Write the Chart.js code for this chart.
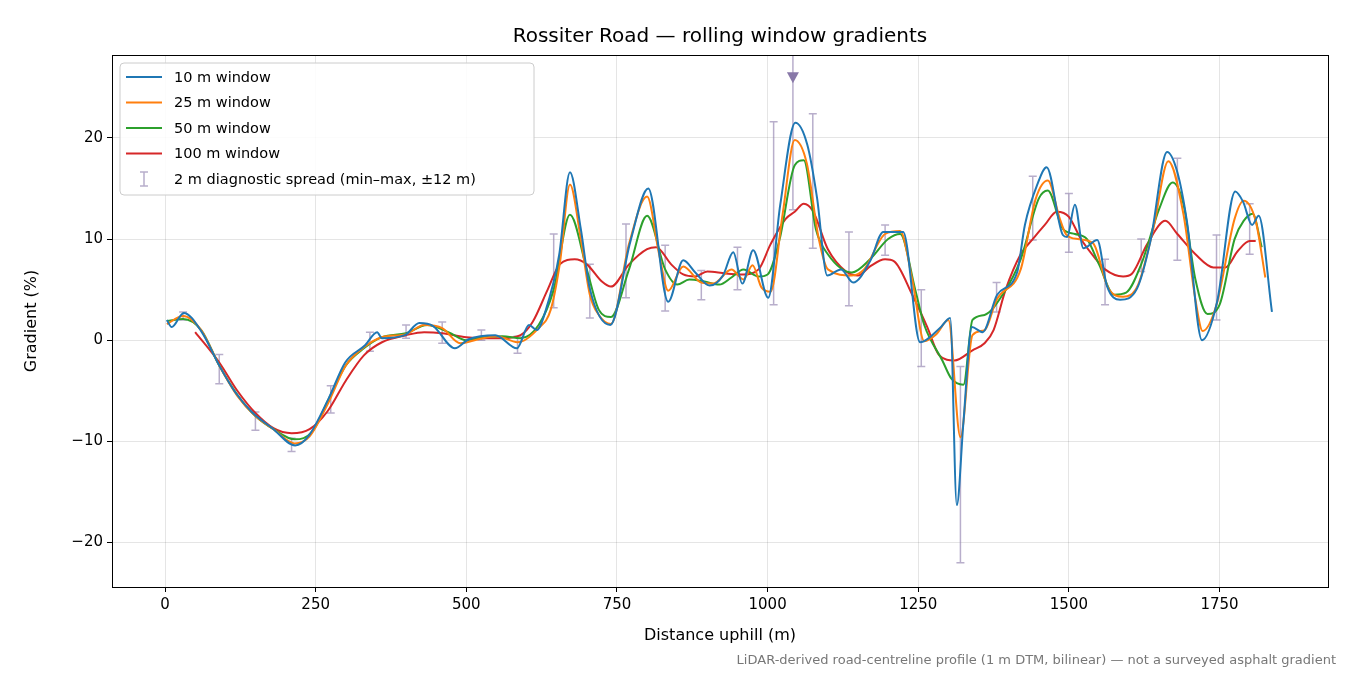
<!DOCTYPE html>
<html>
<head>
<meta charset="utf-8">
<script src="https://cdn.jsdelivr.net/npm/chart.js@4"></script>
<style>
  body { margin: 0; background: #fff; }
  #wrap { position: relative; width: 1350px; height: 675px; }
  #note { position: absolute; right: 14px; bottom: 8px; font: 13px "DejaVu Sans", sans-serif; color: #777; }
</style>
</head>
<body>
<div id="wrap">
  <canvas id="gradChart" width="1350" height="675"></canvas>
  <div id="note">LiDAR-derived road-centreline profile (1 m DTM, bilinear) — not a surveyed asphalt gradient</div>
</div>
<script>
// distances (m) and gradients (%) per window
const dist10 = [3, 11, 31, 61, 90, 116, 144, 178, 216, 239, 272, 299, 332, 352, 360, 398, 422, 445, 481, 504, 548, 584, 604, 617, 631, 654, 672, 690, 705, 739, 772, 802, 835, 860, 880, 904, 926, 943, 958, 976, 1001, 1021, 1046, 1066, 1082, 1099, 1122, 1142, 1170, 1192, 1225, 1253, 1286, 1303, 1314, 1325, 1339, 1357, 1381, 1414, 1427, 1447, 1463, 1490, 1497, 1510, 1524, 1547, 1563, 1585, 1613, 1635, 1663, 1680, 1696, 1721, 1746, 1776, 1789, 1804, 1815, 1837];
const grad10 = [2.0, 1.3, 2.7, 0.8, -2.5, -5.1, -7.1, -8.7, -10.4, -9.4, -5.7, -2.2, -0.5, 0.8, 0.2, 0.5, 1.7, 1.4, -0.8, 0.1, 0.5, -0.8, 1.5, 1.0, 2.8, 8.4, 16.6, 11.0, 5.1, 1.5, 9.7, 15.0, 3.8, 7.9, 6.7, 5.4, 6.4, 8.7, 5.6, 8.9, 4.2, 13.4, 21.5, 19.3, 14.1, 6.4, 7.0, 5.7, 7.8, 10.7, 10.7, -0.2, 1.2, 2.2, -16.3, -8.1, 1.3, 0.8, 4.5, 6.7, 11.4, 15.3, 17.1, 10.4, 10.2, 13.4, 9.1, 9.9, 5.4, 4.0, 5.1, 9.7, 18.6, 16.6, 11.7, 0.0, 3.8, 14.7, 13.7, 11.4, 12.3, 2.8];

const dist25 = [3, 30, 60, 90, 120, 150, 180, 215, 240, 270, 300, 330, 360, 400, 430, 460, 490, 520, 550, 585, 620, 640, 655, 672, 690, 705, 720, 740, 770, 800, 820, 835, 860, 890, 910, 940, 960, 975, 990, 1005, 1025, 1045, 1065, 1085, 1100, 1140, 1160, 1195, 1220, 1240, 1260, 1280, 1300, 1320, 1340, 1360, 1380, 1420, 1445, 1465, 1485, 1495, 1515, 1540, 1565, 1590, 1615, 1640, 1665, 1690, 1710, 1722, 1745, 1775, 1790, 1810, 1826];
const grad25 = [1.6, 2.4, 1.0, -2.5, -5.5, -7.5, -8.8, -10.2, -9.5, -6.3, -2.5, -0.7, 0.3, 0.6, 1.5, 1.2, -0.3, 0.1, 0.4, -0.2, 1.2, 3.0, 7.5, 15.4, 10.0, 4.5, 2.5, 1.6, 9.5, 14.2, 8.5, 4.9, 7.3, 5.7, 5.6, 7.0, 6.0, 7.4, 5.2, 4.8, 12.5, 19.8, 17.5, 10.0, 7.0, 6.4, 7.0, 10.5, 10.8, 6.0, -0.1, 0.6, 2.0, -9.6, 0.5, 1.0, 4.0, 7.0, 14.0, 15.8, 12.0, 10.5, 10.0, 9.6, 5.2, 4.3, 5.5, 11.0, 17.7, 12.5, 4.0, 0.9, 3.5, 12.0, 13.8, 11.8, 6.2];

const dist50 = [3, 30, 60, 90, 120, 150, 180, 215, 245, 270, 300, 330, 360, 400, 435, 470, 500, 530, 560, 590, 620, 645, 672, 700, 720, 740, 770, 800, 830, 850, 870, 895, 920, 940, 960, 985, 1000, 1020, 1045, 1060, 1080, 1100, 1140, 1170, 1200, 1220, 1245, 1260, 1290, 1305, 1325, 1340, 1360, 1390, 1420, 1450, 1465, 1490, 1510, 1530, 1550, 1575, 1595, 1620, 1650, 1672, 1690, 1710, 1730, 1750, 1775, 1790, 1805, 1820];
const grad50 = [1.9, 2.1, 1.0, -2.5, -5.4, -7.5, -8.8, -9.8, -9.0, -6.0, -2.5, -0.8, 0.3, 0.7, 1.5, 0.8, 0.0, 0.3, 0.4, 0.2, 1.5, 5.0, 12.4, 7.0, 3.0, 2.3, 7.0, 12.3, 7.0, 5.5, 6.0, 5.8, 5.5, 6.2, 7.0, 6.3, 6.5, 10.0, 17.3, 17.8, 11.0, 8.5, 6.7, 8.0, 10.0, 10.5, 5.0, 1.5, -2.0, -3.8, -4.4, 2.0, 2.5, 4.5, 8.0, 14.0, 14.8, 11.0, 10.5, 10.0, 7.5, 4.5, 4.7, 7.5, 13.0, 15.6, 13.5, 6.0, 2.6, 3.5, 10.0, 11.8, 12.5, 9.2];

const dist100 = [50, 90, 120, 150, 180, 210, 240, 270, 300, 330, 360, 400, 430, 460, 500, 530, 560, 590, 610, 635, 655, 680, 700, 725, 740, 770, 800, 815, 840, 860, 880, 900, 930, 960, 985, 1005, 1030, 1045, 1060, 1075, 1100, 1130, 1150, 1170, 1195, 1210, 1240, 1265, 1285, 1310, 1340, 1360, 1375, 1395, 1420, 1440, 1460, 1480, 1500, 1520, 1545, 1560, 1590, 1605, 1630, 1660, 1680, 1710, 1740, 1760, 1780, 1800, 1810];
const grad100 = [0.8, -2.2, -5.0, -7.2, -8.7, -9.2, -8.8, -7.0, -4.0, -1.5, -0.2, 0.5, 0.8, 0.7, 0.3, 0.2, 0.2, 0.5, 1.8, 5.0, 7.5, 8.0, 7.5, 5.8, 5.3, 7.5, 9.0, 9.2, 7.5, 6.5, 6.3, 6.8, 6.6, 6.5, 7.0, 9.5, 12.0, 12.7, 13.5, 12.8, 9.0, 6.8, 6.4, 7.3, 8.0, 7.8, 4.5, 1.3, -1.5, -2.0, -1.0, -0.3, 1.0, 5.0, 8.5, 10.0, 11.4, 12.7, 12.2, 10.0, 8.0, 7.0, 6.3, 6.6, 9.5, 11.8, 10.5, 8.5, 7.2, 7.2, 8.8, 9.8, 9.8];

// 2 m diagnostic spread, min–max within ±12 m
const spreadDist = [30, 90, 150, 210, 275, 340, 400, 460, 525, 585, 645, 705, 765, 830, 890, 950, 1010, 1042, 1075, 1135, 1195, 1255, 1320, 1380, 1440, 1500, 1560, 1620, 1680, 1745, 1800];
const spreadMax = [2.8, -1.4, -7.1, -9.7, -4.5, 0.8, 1.5, 1.8, 1.0, 0.4, 10.5, 7.5, 11.5, 9.4, 6.9, 9.2, 21.6, 40.0, 22.4, 10.7, 11.4, 5.0, -2.6, 5.7, 16.2, 14.5, 8.0, 10.0, 18.0, 10.4, 13.5];
const spreadMin = [2.0, -4.3, -8.9, -11.0, -7.2, -1.1, 0.2, -0.3, 0.0, -1.3, 3.2, 2.2, 4.2, 2.9, 4.0, 5.0, 3.5, 12.9, 9.1, 3.4, 8.4, -2.6, -22.0, 2.8, 9.9, 8.7, 3.5, 6.8, 7.9, 2.0, 8.5];

const xTicks = [0, 250, 500, 750, 1000, 1250, 1500, 1750];
const yTicks = [-20, -10, 0, 10, 20];
const X_MIN = -88, X_MAX = 1930, Y_MIN = -24.4, Y_MAX = 28.2;

const pts = (xs, ys) => xs.map((x, i) => ({ x: x, y: ys[i] }));
const fontFam = '"DejaVu Sans", sans-serif';
const spreadColor = 'rgba(136, 120, 168, 0.6)';

const spreadPlugin = {
    id: 'spread',
    beforeDatasetsDraw(chart) {
        const { ctx, scales: { x, y }, chartArea } = chart;
        ctx.save();
        ctx.strokeStyle = spreadColor;
        ctx.lineWidth = 1.5;
        spreadDist.forEach((d, i) => {
            const px = x.getPixelForValue(d);
            const top = Math.max(y.getPixelForValue(spreadMax[i]), chartArea.top);
            const bot = y.getPixelForValue(spreadMin[i]);
            ctx.beginPath();
            ctx.moveTo(px, top); ctx.lineTo(px, bot);
            if (spreadMax[i] <= Y_MAX) { ctx.moveTo(px - 4, top); ctx.lineTo(px + 4, top); }
            ctx.moveTo(px - 4, bot); ctx.lineTo(px + 4, bot);
            ctx.stroke();
            if (spreadMax[i] > Y_MAX) {
                const ty = y.getPixelForValue(26.0);
                ctx.fillStyle = '#8878a8';
                ctx.beginPath();
                ctx.moveTo(px - 6, ty - 5); ctx.lineTo(px + 6, ty - 5); ctx.lineTo(px, ty + 6);
                ctx.closePath(); ctx.fill();
            }
        });
        ctx.restore();
    },
    afterDraw(chart) {
        const { ctx, chartArea: a } = chart;
        ctx.save();
        ctx.strokeStyle = '#000';
        ctx.lineWidth = 1;
        ctx.strokeRect(a.left + 0.5, a.top + 0.5, a.right - a.left, a.bottom - a.top);
        // title
        ctx.fillStyle = '#000';
        ctx.font = '20px ' + fontFam;
        ctx.textAlign = 'center';
        ctx.textBaseline = 'alphabetic';
        ctx.fillText('Rossiter Road — rolling window gradients', (a.left + a.right) / 2, 42);
        // legend
        const lx = a.left + 8, ly = a.top + 8;
        ctx.fillStyle = 'rgba(255,255,255,0.85)';
        ctx.strokeStyle = '#ccc';
        ctx.beginPath();
        ctx.roundRect(lx, ly, 414, 132, 4);
        ctx.fill(); ctx.stroke();
        const items = chart.data.datasets.map(ds => [ds.label, ds.borderColor]);
        items.push(['2 m diagnostic spread (min–max, ±12 m)', null]);
        ctx.font = '14.5px ' + fontFam;
        ctx.textAlign = 'left';
        ctx.textBaseline = 'middle';
        items.forEach((it, i) => {
            const yy = ly + 14 + i * 25.5;
            if (it[1]) {
                ctx.strokeStyle = it[1]; ctx.lineWidth = 2;
                ctx.beginPath(); ctx.moveTo(lx + 6, yy); ctx.lineTo(lx + 42, yy); ctx.stroke();
            } else {
                ctx.strokeStyle = spreadColor; ctx.lineWidth = 1.5;
                ctx.beginPath();
                ctx.moveTo(lx + 24, yy - 7); ctx.lineTo(lx + 24, yy + 7);
                ctx.moveTo(lx + 20, yy - 7); ctx.lineTo(lx + 28, yy - 7);
                ctx.moveTo(lx + 20, yy + 7); ctx.lineTo(lx + 28, yy + 7);
                ctx.stroke();
            }
            ctx.fillStyle = '#000';
            ctx.fillText(it[0], lx + 54, yy + 1);
        });
        ctx.restore();
    }
};

const line = (label, color, data) => ({
    label: label, data: data, borderColor: color, backgroundColor: color,
    borderWidth: 2, pointRadius: 0, cubicInterpolationMode: 'monotone', fill: false
});

new Chart(document.getElementById('gradChart').getContext('2d'), {
    type: 'line',
    data: {
        datasets: [
            line('10 m window', '#1f77b4', pts(dist10, grad10)),
            line('25 m window', '#ff7f0e', pts(dist25, grad25)),
            line('50 m window', '#2ca02c', pts(dist50, grad50)),
            line('100 m window', '#d62728', pts(dist100, grad100))
        ]
    },
    options: {
        responsive: false,
        animation: false,
        layout: { padding: { top: 55, right: 22, left: 22, bottom: 30 } },
        plugins: { legend: { display: false }, title: { display: false }, tooltip: { enabled: false } },
        scales: {
            x: {
                type: 'linear', min: X_MIN, max: X_MAX,
                afterBuildTicks: s => { s.ticks = xTicks.map(v => ({ value: v })); },
                afterFit: s => { s.height = 58; },
                grid: { color: 'rgba(0,0,0,0.1)', tickColor: '#000', tickLength: 5 },
                border: { display: false },
                ticks: { color: '#000', font: { family: fontFam, size: 15 }, padding: 4, maxRotation: 0,
                         callback: v => String(v) },
                title: { display: true, text: 'Distance uphill (m)', color: '#000', font: { family: fontFam, size: 16 }, padding: { top: 2, bottom: 0 } }
            },
            y: {
                type: 'linear', min: Y_MIN, max: Y_MAX,
                afterBuildTicks: s => { s.ticks = yTicks.map(v => ({ value: v })); },
                afterFit: s => { s.width = 90; },
                grid: { color: 'rgba(0,0,0,0.1)', tickColor: '#000', tickLength: 5 },
                border: { display: false },
                ticks: { color: '#000', font: { family: fontFam, size: 15 }, padding: 4,
                         callback: v => (v < 0 ? '\u2212' + Math.abs(v) : String(v)) },
                title: { display: true, text: 'Gradient (%)', color: '#000', font: { family: fontFam, size: 16 }, padding: { top: 0, bottom: 4 } }
            }
        }
    },
    plugins: [spreadPlugin]
});
</script>
</body>
</html>
